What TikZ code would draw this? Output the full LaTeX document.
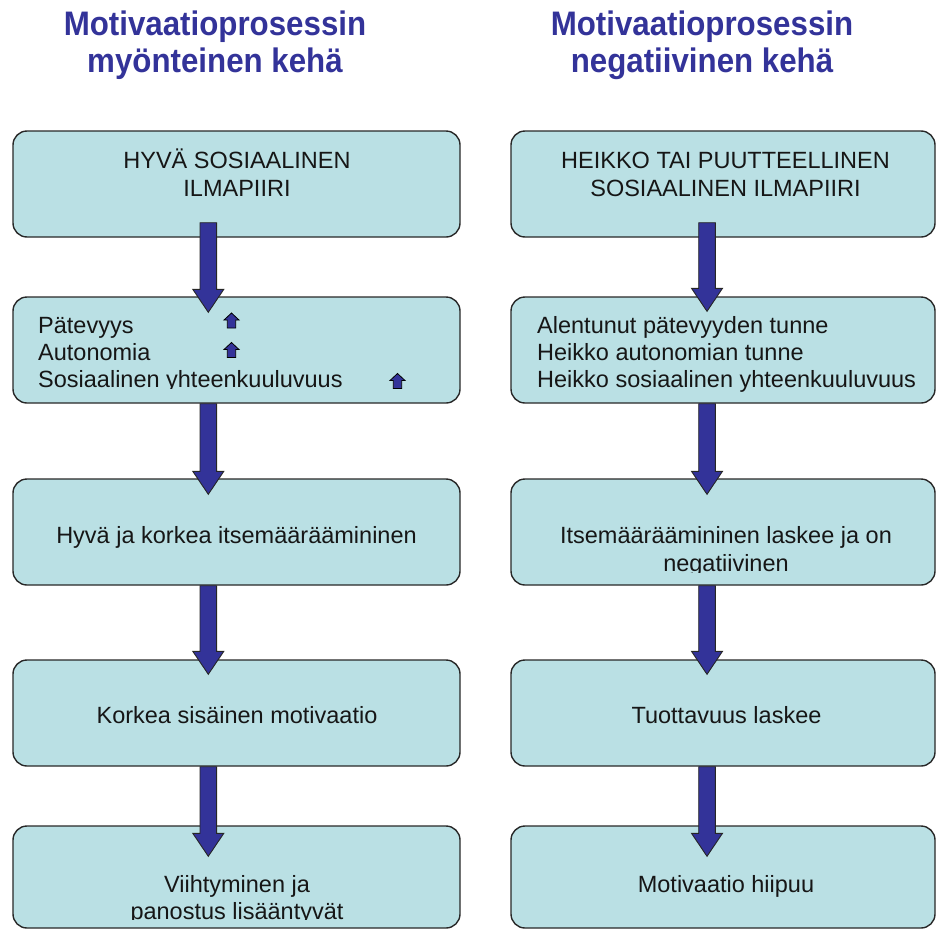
\documentclass[tikz,border=0pt]{standalone}
\usepackage{fontspec}
\usepackage{graphicx}
\setmainfont{Liberation Sans}
\usetikzlibrary{calc}

\definecolor{boxfill}{RGB}{186,224,228}
\definecolor{navy}{RGB}{51,51,153}
\definecolor{ink}{RGB}{22,22,22}
\definecolor{edge}{RGB}{40,40,40}

\tikzset{
  stage/.style={draw=edge, line width=1.4pt, fill=boxfill, rounded corners=14pt, inner sep=0pt},
  leftcol/.style={stage, minimum width=447pt, minimum height=106pt},
  rightcol/.style={stage, minimum width=424pt, minimum height=106pt},
  label/.style={inner sep=0pt, text=ink, font=\fontsize{23.5}{27.5}\selectfont},
  heading/.style={inner sep=0pt, text=navy, font=\fontsize{34}{37}\selectfont\bfseries},
  bigarrow/.style={fill=navy, draw=black!85, line width=0.9pt, line join=miter},
  smallarrow/.style={fill=navy, draw=black, line width=0.8pt, line join=miter},
  uparrowpic/.pic={\draw[smallarrow] (0,-7.5) -- (7.5,-0.5) -- (4.2,-0.5) -- (4.2,7.5)
      -- (-4.2,7.5) -- (-4.2,-0.5) -- (-7.5,-0.5) -- cycle;},
}

% block arrow from a start point (#1) down to a tip point (#2)
\newcommand\blockarrow[2]{%
  \path #1 coordinate (ba-s) #2 coordinate (ba-t);
  \draw[bigarrow] ($(ba-s)+(-8.3,0)$) -- ($(ba-t)+(-8.3,-23)$) -- ($(ba-t)+(-15.5,-23)$)
    -- (ba-t) -- ($(ba-t)+(15.5,-23)$) -- ($(ba-t)+(8.3,-23)$) -- ($(ba-s)+(8.3,0)$) -- cycle;}

\begin{document}
\begin{tikzpicture}[x=1pt,y=-1pt]
\useasboundingbox (0,0) rectangle (937,929);

% column headings
\node[heading, anchor=base] (hl1) at (215,35) {\scalebox{0.92}[1]{Motivaatioprosessin}};
\node[heading, anchor=base] (hl2) at (215,72) {\scalebox{0.92}[1]{myönteinen kehä}};
\node[heading, anchor=base] (hr1) at (702,35) {\scalebox{0.92}[1]{Motivaatioprosessin}};
\node[heading, anchor=base] (hr2) at (702,72) {\scalebox{0.92}[1]{negatiivinen kehä}};

% stage boxes
\node[leftcol] (L1) at (236.5,184) {};
\node[leftcol] (L2) at (236.5,350) {};
\node[leftcol] (L3) at (236.5,532) {};
\node[leftcol] (L4) at (236.5,713) {};
\node[leftcol, minimum height=102pt] (L5) at (236.5,877) {};
\node[rightcol] (R1) at (723,184) {};
\node[rightcol] (R2) at (723,350) {};
\node[rightcol] (R3) at (723,532) {};
\node[rightcol] (R4) at (723,713) {};
\node[rightcol, minimum height=102pt] (R5) at (723,877) {};

% arrow axes
\coordinate (colL) at (208.3,0);
\coordinate (colR) at (707,0);

% connecting arrows
\blockarrow{($(L1.south -| colL)+(0,-15)$)}{($(L2.north -| colL)+(0,16)$)}
\blockarrow{(L2.south -| colL)}{($(L3.north -| colL)+(0,16)$)}
\blockarrow{(L3.south -| colL)}{($(L4.north -| colL)+(0,15)$)}
\blockarrow{(L4.south -| colL)}{($(L5.north -| colL)+(0,31)$)}
\blockarrow{($(R1.south -| colR)+(0,-15)$)}{($(R2.north -| colR)+(0,15)$)}
\blockarrow{(R2.south -| colR)}{($(R3.north -| colR)+(0,16)$)}
\blockarrow{(R3.south -| colR)}{($(R4.north -| colR)+(0,15)$)}
\blockarrow{(R4.south -| colR)}{($(R5.north -| colR)+(0,31)$)}

% left column texts
\node[label, anchor=base] (tL1a) at (237,168) {HYVÄ SOSIAALINEN};
\node[label, anchor=base] (tL1b) at (237,196) {ILMAPIIRI};
\node[label, anchor=base west] (tL2a) at (38,333) {Pätevyys};
\node[label, anchor=base west] (tL2b) at (38,360) {Autonomia};
\begin{scope}
  \clip (0,300) rectangle (470,388.5);
  \node[label, anchor=base west] (tL2c) at (38,387) {Sosiaalinen yhteenkuuluvuus};
\end{scope}
\pic at (231.5,320.5) {uparrowpic};
\pic at (231.5,350) {uparrowpic};
\pic at (397.5,381) {uparrowpic};
\node[label, anchor=base] (tL3) at (236.5,543) {Hyvä ja korkea itsemääräämininen};
\node[label, anchor=base] (tL4) at (237,723) {Korkea sisäinen motivaatio};
\node[label, anchor=base] (tL5a) at (237,892) {Viihtyminen ja};
\begin{scope}
  \clip (0,850) rectangle (470,919.5);
  \node[label, anchor=base] (tL5b) at (237,919) {panostus lisääntyvät};
\end{scope}

% right column texts
\node[label, anchor=base] (tR1a) at (725.5,168) {HEIKKO TAI PUUTTEELLINEN};
\node[label, anchor=base] (tR1b) at (725.5,196) {SOSIAALINEN ILMAPIIRI};
\node[label, anchor=base west] (tR2a) at (537,333) {Alentunut pätevyyden tunne};
\node[label, anchor=base west] (tR2b) at (537,360) {Heikko autonomian tunne};
\node[label, anchor=base west] (tR2c) at (537,387) {Heikko sosiaalinen yhteenkuuluvuus};
\node[label, anchor=base] (tR3a) at (726,543) {Itsemääräämininen laskee ja on};
\begin{scope}
  \clip (480,550) rectangle (937,572.5);
  \node[label, anchor=base] (tR3b) at (726,571) {negatiivinen};
\end{scope}
\node[label, anchor=base] (tR4) at (726.5,723) {Tuottavuus laskee};
\node[label, anchor=base] (tR5) at (726,892) {Motivaatio hiipuu};
\end{tikzpicture}
\end{document}
